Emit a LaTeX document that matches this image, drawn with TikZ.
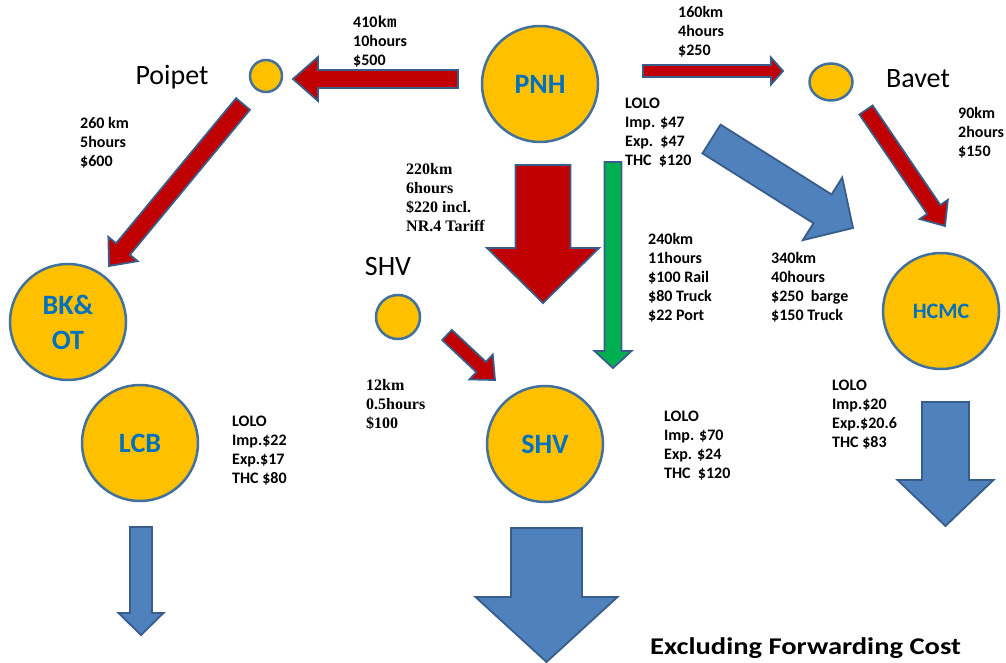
\documentclass[tikz,border=0pt]{standalone}
\usepackage{fontspec}
\setmainfont{Carlito}
\newfontfamily\serifb{Liberation Serif}
\newfontfamily\monob{Liberation Mono}
\newfontfamily\widefont[FakeStretch=1.19]{Carlito}
\usetikzlibrary{calc,shapes.geometric}
\definecolor{cfill}{HTML}{FFC000}
\definecolor{cedge}{HTML}{41719C}
\definecolor{aedge}{HTML}{385D8A}
\definecolor{ared}{HTML}{C00000}
\definecolor{ablue}{HTML}{4F81BD}
\definecolor{agreen}{HTML}{00B050}
\definecolor{tblue}{HTML}{0070C0}
\tikzset{
  hub/.style={circle, draw=cedge, fill=cfill, line width=2.5pt, inner sep=0pt, minimum size=116pt,
    text=tblue, align=center, font=\fontsize{28}{35}\selectfont\bfseries},
  stop/.style={circle, draw=cedge, fill=cfill, line width=2.5pt, inner sep=0pt},
  place/.style={inner sep=0pt, font=\fontsize{28}{30}\selectfont},
  lbl/.style={anchor=north west, inner sep=0pt, align=left, font=\fontsize{16}{19}\selectfont\bfseries},
  slbl/.style={anchor=north west, inner sep=0pt, align=left, font=\fontsize{16}{19}\selectfont\serifb\bfseries},
  arrowbox/.style={draw=aedge, line width=1.8pt, line join=miter},
}
\newcommand\fatarrow[6]{%
  \coordinate (fahead) at ($(#2)!#5!(#1)$);
  \draw[arrowbox, fill=#6] ($(#1)!#3!90:(#2)$) -- ($(fahead)!#3!90:(#2)$) -- ($(fahead)!#4!90:(#2)$)
    -- (#2) -- ($(fahead)!#4!-90:(#2)$) -- ($(fahead)!#3!-90:(#2)$) -- ($(#1)!#3!-90:(#2)$) -- cycle;
}
\begin{document}
\begin{tikzpicture}[x=1pt,y=-1pt]
\useasboundingbox (0,0) rectangle (1006,663);
% hubs
\node[hub] (pnh) at (540,84) {PNH};
\node[hub] (shv) at (545,444) {SHV};
\node[hub] (lcb) at (140,443) {LCB};
\node[hub] (bkot) at (68,322) {BK\&\\OT};
\node[hub, font=\fontsize{22}{26}\selectfont\bfseries] (hcmc) at (941,311) {HCMC};
% small stops
\node[stop, minimum size=32pt] (poipet) at (266,76) {};
\node[ellipse, draw=cedge, fill=cfill, line width=2.5pt, inner sep=0pt, minimum width=43pt, minimum height=37pt] (bavet) at (831,82) {};
\node[stop, minimum size=44pt] (shvs) at (398,317) {};
% place names
\node[place] (poipetl) at (172,77) {Poipet};
\node[place] (bavetl) at (918,79) {Bavet};
\node[place] (shvl) at (388,267) {SHV};
% arrow end points
\coordinate (a1s) at (458,79);   \coordinate (a1t) at (293,79);
\coordinate (a2s) at (643,71);   \coordinate (a2t) at (783,71);
\coordinate (a3s) at (866,110);  \coordinate (a3t) at (945,226);
\coordinate (a4s) at (243,104);  \coordinate (a4t) at (109,266);
\coordinate (a5s) at (543,165);  \coordinate (a5t) at (543,303);
\coordinate (a6s) at (613,162);  \coordinate (a6t) at (613,368);
\coordinate (a7s) at (447,335);  \coordinate (a7t) at (495,380);
\coordinate (a8s) at (711.5,139); \coordinate (a8t) at (853,228);
\coordinate (a9s) at (141,527);  \coordinate (a9t) at (141,635);
\coordinate (a10s) at (546.5,528); \coordinate (a10t) at (546.5,662);
\coordinate (a11s) at (945.5,402); \coordinate (a11t) at (945.5,526);
% arrows
\fatarrow{a1s}{a1t}{9pt}{22pt}{25pt}{ared}
\fatarrow{a2s}{a2t}{6pt}{13.5pt}{12pt}{ared}
\fatarrow{a3s}{a3t}{8pt}{17pt}{20pt}{ared}
\fatarrow{a4s}{a4t}{9pt}{19pt}{22pt}{ared}
\fatarrow{a5s}{a5t}{27.5pt}{56pt}{55pt}{ared}
\fatarrow{a6s}{a6t}{8.5pt}{18.5pt}{17pt}{agreen}
\fatarrow{a7s}{a7t}{7pt}{17pt}{19pt}{ared}
\fatarrow{a8s}{a8t}{17pt}{37pt}{36pt}{ablue}
\fatarrow{a9s}{a9t}{11pt}{22.5pt}{22pt}{ablue}
\fatarrow{a10s}{a10t}{35.5pt}{71pt}{65pt}{ablue}
\fatarrow{a11s}{a11t}{23.5pt}{48pt}{46pt}{ablue}
% labels
\node[lbl] (t410) at (353,16) {410{\monob\bfseries km}\\10hours\\\$500};
\node[lbl] (t160) at (678,6) {160km\\4hours\\\$250};
\node[lbl] (lpnh) at (625,97.5) {LOLO\\Imp. \$47\\Exp.\ \ \$47\\THC\ \ \$120};
\node[lbl] (t90) at (958,107) {90km\\2hours\\\$150};
\node[lbl] (t260) at (80,117) {260 km\\5hours\\\$600};
\node[slbl] (t220) at (406,163) {220km\\6hours\\\$220 incl.\\NR.4 Tariff};
\node[lbl] (t240) at (648,233) {240km\\11hours\\\$100 Rail\\\$80 Truck\\\$22 Port};
\node[lbl] (t340) at (771,252) {340km\\40hours\\\$250\ \ barge\\\$150 Truck};
\node[lbl] (lhcmc) at (832,380) {LOLO\\Imp.\$20\\Exp.\$20.6\\THC \$83};
\node[slbl] (t12) at (366,379) {12km\\0.5hours\\\$100};
\node[lbl] (lshv) at (664,411) {LOLO\\Imp. \$70\\Exp. \$24\\THC\ \ \$120};
\node[lbl] (llcb) at (232,416) {LOLO\\Imp.\$22\\Exp.\$17\\THC \$80};
\node[anchor=base west, inner sep=0pt, font=\fontsize{24}{28}\selectfont\widefont\bfseries] (excl) at (650,654.5) {Excluding Forwarding Cost};
\end{tikzpicture}
\end{document}
